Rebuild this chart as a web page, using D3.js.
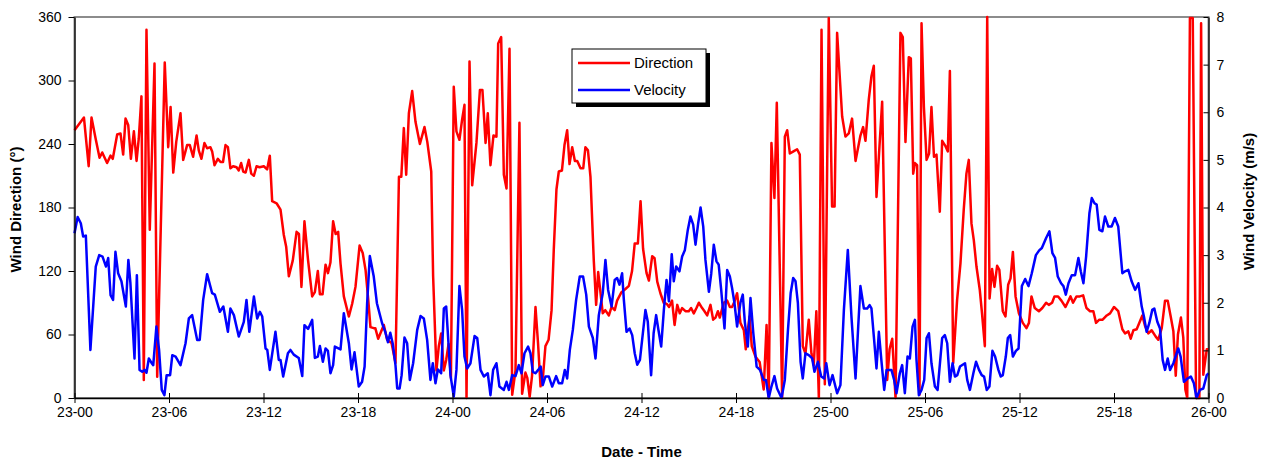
<!DOCTYPE html>
<html>
<head>
<meta charset="utf-8">
<script src="https://cdn.jsdelivr.net/npm/d3@7"></script>
<style>
  html, body { margin: 0; padding: 0; background: #fff; }
  svg { display: block; font-family: "Liberation Sans", Arial, sans-serif; }
</style>
</head>
<body>
<svg id="chart" width="1265" height="464"></svg>
<script>
// Wind direction (degrees) as [hours since 23-00, value]
const directionSeries = [
[0,253],[0.6,265],[0.9,219],[1.08,265],[1.33,246],[1.59,227],[1.76,232],[2.07,222],[2.29,229],[2.43,226],[2.71,249],[2.92,250],[3.09,230],[3.24,264],[3.41,258],[3.58,226],[3.77,252],[3.94,224],[4.08,245],[4.25,285],[4.4,17],[4.57,348],[4.78,159],[5.08,316],[5.25,20],[5.73,317],[5.95,237],[6.1,275],[6.27,213],[6.46,242],[6.73,269],[6.9,225],[7.15,239],[7.32,239],[7.53,228],[7.75,248],[7.89,234],[8.06,226],[8.25,241],[8.42,236],[8.63,237],[8.74,233],[8.89,220],[9.1,226],[9.27,223],[9.43,223],[9.59,239],[9.74,237],[9.9,217],[10.07,219],[10.29,218],[10.43,215],[10.58,222],[10.71,214],[10.86,213],[11.07,225],[11.22,212],[11.39,210],[11.56,219],[11.75,218],[12.02,219],[12.23,216],[12.4,229],[12.55,186],[12.83,184],[13.08,178],[13.29,154],[13.44,143],[13.61,115],[13.86,130],[14.1,157],[14.25,155],[14.41,105],[14.6,167],[14.83,130],[15.09,96],[15.26,100],[15.45,120],[15.58,98],[15.75,98],[15.94,126],[16.09,118],[16.25,128],[16.42,167],[16.58,155],[16.74,157],[16.89,127],[17.1,96],[17.42,77],[17.63,89],[17.84,105],[18.1,144],[18.3,137],[18.48,121],[18.65,93],[18.79,67],[19.0,66],[19.1,66],[19.28,56],[19.64,69],[19.85,55],[20.13,52],[20.38,33],[20.6,209],[20.75,209],[20.91,255],[21.06,211],[21.23,269],[21.44,290],[21.65,261],[21.93,240],[22.22,256],[22.4,242],[22.65,214],[22.77,115],[22.98,26],[23.13,49],[23.28,61],[23.45,26],[23.6,36],[23.75,51],[23.9,19],[24.08,294],[24.25,252],[24.44,244],[24.61,263],[24.76,277],[24.89,0],[25.08,318],[25.25,201],[25.52,241],[25.74,291],[25.9,291],[26.1,241],[26.24,269],[26.41,220],[26.6,248],[26.79,247],[26.9,335],[27.09,341],[27.26,211],[27.43,198],[27.62,330],[27.79,3],[28.0,26],[28.25,260],[28.42,4],[28.63,24],[28.75,19],[28.9,1],[29.05,21],[29.27,86],[29.43,52],[29.59,11],[29.75,21],[29.9,49],[30.1,55],[30.29,83],[30.43,140],[30.6,197],[30.75,214],[30.95,215],[31.11,239],[31.28,253],[31.43,221],[31.6,237],[31.77,224],[31.92,224],[32.13,217],[32.3,217],[32.44,237],[32.6,234],[32.76,209],[32.97,130],[33.12,88],[33.25,119],[33.4,99],[33.54,80],[33.7,83],[33.93,78],[34.1,86],[34.3,83],[34.45,92],[34.73,100],[34.98,103],[35.2,106],[35.4,120],[35.57,146],[35.77,146],[35.94,186],[36.1,141],[36.32,118],[36.47,111],[36.68,134],[36.83,132],[37.0,110],[37.2,99],[37.41,90],[37.6,89],[37.75,86],[37.94,92],[38.1,69],[38.27,88],[38.43,80],[38.58,85],[38.79,82],[39.0,82],[39.15,85],[39.32,80],[39.49,85],[39.64,90],[39.85,85],[40.0,82],[40.17,78],[40.38,88],[40.55,74],[40.7,76],[40.85,82],[40.97,76],[41.22,90],[41.44,92],[41.61,86],[41.75,86],[41.9,91],[42.07,99],[42.28,71],[42.5,64],[42.62,46],[42.75,64],[42.86,77],[43.0,49],[43.24,39],[43.34,37],[43.5,34],[43.76,8],[43.94,69],[44.08,0],[44.25,241],[44.44,189],[44.59,279],[44.93,0],[45.1,247],[45.25,253],[45.42,231],[45.65,233],[45.88,235],[46.05,230],[46.24,49],[46.41,42],[46.62,74],[46.79,42],[46.94,31],[47.1,82],[47.26,0],[47.43,348],[47.64,13],[47.89,359],[48.1,181],[48.26,181],[48.42,345],[48.74,266],[48.95,247],[49.16,250],[49.37,264],[49.59,224],[49.9,248],[50.07,256],[50.22,243],[50.43,282],[50.6,304],[50.75,314],[50.92,190],[51.07,228],[51.28,280],[51.6,17],[51.75,46],[51.92,56],[52.13,0],[52.44,345],[52.59,341],[52.76,242],[52.97,322],[53.1,321],[53.25,212],[53.36,222],[53.5,220],[53.65,3],[53.78,354],[53.93,275],[54.1,225],[54.26,231],[54.41,275],[54.57,228],[54.73,230],[54.94,176],[55.09,243],[55.3,238],[55.45,233],[55.58,309],[55.79,33],[56.04,93],[56.25,127],[56.46,178],[56.63,212],[56.78,225],[56.95,165],[57.1,149],[57.27,124],[57.48,102],[57.62,80],[57.8,49],[57.95,360],[58.1,94],[58.26,122],[58.41,105],[58.58,125],[58.72,121],[58.94,82],[59.11,77],[59.28,107],[59.43,113],[59.58,138],[59.75,96],[59.96,80],[60.21,71],[60.44,66],[60.6,71],[60.76,96],[60.97,85],[61.23,82],[61.45,85],[61.69,90],[61.86,88],[62.07,90],[62.22,96],[62.45,96],[62.66,92],[62.92,86],[63.08,91],[63.24,96],[63.4,90],[63.62,96],[63.83,96],[64.04,97],[64.25,85],[64.48,82],[64.69,82],[64.86,71],[65.07,74],[65.28,74],[65.54,78],[65.75,80],[66.0,86],[66.27,82],[66.53,65],[66.7,61],[66.91,63],[67.06,56],[67.23,64],[67.44,65],[67.61,71],[67.8,78],[67.97,68],[68.18,61],[68.39,64],[68.65,58],[68.81,55],[69.03,66],[69.24,92],[69.41,92],[69.6,77],[69.77,63],[69.92,21],[70.06,60],[70.25,76],[70.4,57],[70.53,8],[70.65,0],[70.82,359],[71.0,359],[71.21,0],[71.42,0],[71.53,354],[71.67,22],[71.89,46],[72.0,46]
];

// Wind velocity (m/s) as [hours since 23-00, value]
const velocitySeries = [
[0,3.46],[0.2,3.8],[0.4,3.67],[0.55,3.39],[0.72,3.41],[1.01,1.01],[1.35,2.76],[1.57,3.0],[1.78,2.97],[2.0,2.76],[2.14,2.94],[2.29,2.16],[2.45,2.06],[2.6,3.07],[2.77,2.62],[2.98,2.45],[3.26,1.92],[3.42,2.9],[3.55,2.41],[3.81,0.83],[3.96,2.58],[4.13,0.59],[4.3,0.55],[4.45,0.59],[4.57,0.53],[4.72,0.83],[4.9,0.73],[5.0,0.69],[5.2,1.5],[5.37,1.01],[5.54,0.17],[5.71,0.06],[5.85,0.48],[6.07,0.48],[6.21,0.9],[6.42,0.87],[6.73,0.69],[7.05,1.15],[7.26,1.67],[7.47,1.74],[7.79,1.22],[7.95,1.22],[8.17,2.06],[8.42,2.6],[8.74,2.2],[8.91,2.17],[9.23,1.81],[9.45,1.92],[9.74,1.39],[9.9,1.88],[10.12,1.74],[10.43,1.29],[10.75,1.6],[10.92,2.06],[11.1,1.39],[11.39,2.13],[11.6,1.67],[11.77,1.81],[11.92,1.71],[12.13,1.04],[12.24,1.01],[12.4,0.59],[12.76,1.39],[12.97,0.8],[13.08,0.8],[13.25,0.45],[13.55,0.94],[13.71,1.01],[13.92,0.91],[14.24,0.84],[14.46,0.46],[14.6,1.53],[14.83,1.45],[15.09,1.64],[15.26,0.84],[15.45,0.87],[15.58,1.09],[15.77,0.76],[15.94,1.04],[16.09,0.99],[16.25,0.52],[16.42,0.69],[16.53,1.08],[16.89,1.02],[17.1,1.78],[17.42,1.15],[17.59,0.6],[17.78,0.96],[18.05,0.24],[18.26,0.34],[18.42,0.66],[18.58,1.99],[18.75,2.98],[19.0,2.55],[19.2,1.99],[19.53,1.57],[19.74,1.38],[19.9,1.17],[20.05,1.37],[20.2,1.15],[20.38,0.69],[20.49,0.2],[20.64,0.2],[20.77,0.48],[20.95,1.27],[21.12,1.15],[21.29,0.38],[21.5,0.73],[21.76,1.43],[21.97,1.72],[22.18,1.67],[22.39,1.22],[22.6,0.38],[22.75,0.73],[22.92,0.31],[23.07,0.6],[23.28,0.52],[23.45,1.88],[23.6,1.92],[23.87,0.48],[24.08,0.03],[24.25,0.59],[24.44,2.35],[24.61,1.85],[24.76,0.87],[24.93,0.62],[25.14,0.73],[25.4,1.3],[25.57,1.26],[25.78,0.59],[25.99,0.45],[26.24,0.52],[26.41,0.06],[26.58,0.59],[26.79,0.73],[26.98,0.24],[27.26,0.17],[27.43,0.34],[27.58,0.17],[27.79,0.48],[28.0,0.46],[28.21,0.69],[28.38,0.52],[28.57,0.94],[28.8,1.08],[28.95,0.94],[29.1,0.55],[29.27,0.52],[29.44,0.59],[29.6,0.66],[29.73,0.27],[29.9,0.45],[30.12,0.45],[30.33,0.24],[30.58,0.46],[30.75,0.31],[30.96,0.31],[31.13,0.59],[31.28,0.41],[31.45,1.01],[31.64,1.43],[31.85,2.06],[32.08,2.55],[32.29,2.55],[32.49,2.17],[32.66,1.5],[32.91,1.26],[33.08,0.83],[33.29,1.74],[33.54,2.2],[33.71,2.9],[33.88,2.27],[34.1,1.92],[34.3,2.48],[34.45,2.52],[34.6,2.38],[34.77,2.62],[34.88,2.06],[35.05,1.39],[35.24,1.46],[35.41,1.32],[35.57,0.94],[35.73,0.7],[35.9,0.8],[36.25,1.85],[36.4,1.6],[36.61,0.48],[36.77,1.36],[36.93,1.74],[37.06,1.46],[37.25,1.08],[37.42,1.85],[37.59,2.48],[37.74,2.03],[37.92,3.02],[38.05,2.45],[38.2,2.76],[38.41,2.66],[38.58,2.97],[38.75,3.1],[38.94,3.53],[39.11,3.81],[39.28,3.64],[39.43,3.22],[39.6,3.67],[39.75,4.0],[39.92,3.6],[40.06,2.9],[40.28,2.23],[40.43,2.62],[40.59,3.22],[40.76,2.87],[40.9,2.8],[41.06,2.27],[41.27,1.46],[41.44,2.69],[41.61,2.55],[41.75,2.31],[41.9,2.0],[42.07,1.5],[42.28,2.0],[42.43,2.17],[42.56,1.6],[42.75,1.08],[42.92,2.1],[43.1,1.36],[43.31,0.66],[43.52,0.59],[43.76,0.38],[43.9,0.38],[44.08,0.0],[44.25,0.24],[44.44,0.46],[44.61,0.2],[44.89,0.0],[45.1,0.38],[45.3,1.43],[45.47,2.2],[45.63,2.52],[45.78,2.45],[45.93,1.99],[46.1,0.76],[46.24,0.41],[46.41,0.94],[46.62,0.9],[46.84,0.83],[46.98,0.55],[47.2,0.76],[47.41,0.45],[47.6,0.41],[47.73,0.73],[47.94,0.27],[48.13,0.48],[48.42,0.1],[48.63,0.27],[48.85,1.85],[49.1,3.11],[49.33,1.71],[49.59,0.41],[49.76,1.5],[49.9,2.35],[50.12,1.88],[50.33,1.88],[50.48,1.95],[50.6,1.88],[50.77,1.22],[50.92,0.62],[51.07,1.39],[51.24,0.76],[51.41,0.17],[51.56,0.59],[51.87,0.59],[52.04,0.38],[52.19,0.1],[52.4,0.52],[52.55,0.69],[52.72,0.1],[52.89,0.87],[53.04,0.83],[53.21,1.5],[53.36,1.64],[53.46,0.8],[53.61,0.06],[53.78,0.17],[53.95,0.38],[54.1,1.26],[54.25,1.36],[54.41,0.73],[54.63,0.24],[54.8,0.17],[54.95,0.73],[55.09,1.26],[55.26,1.32],[55.41,1.15],[55.58,0.34],[55.75,0.73],[55.9,0.45],[56.05,0.48],[56.22,0.66],[56.54,0.73],[56.68,0.38],[56.85,0.17],[57.07,0.52],[57.24,0.76],[57.43,0.59],[57.6,0.48],[57.75,0.45],[57.92,0.17],[58.09,0.24],[58.28,0.99],[58.45,0.87],[58.66,0.59],[58.81,0.45],[58.94,0.48],[59.13,0.87],[59.26,1.26],[59.41,1.32],[59.58,0.87],[59.77,0.99],[59.94,1.04],[60.15,2.35],[60.36,2.5],[60.57,2.35],[60.78,2.62],[61.04,3.0],[61.25,3.1],[61.42,3.15],[61.69,3.36],[61.9,3.5],[62.09,3.04],[62.26,2.94],[62.43,2.55],[62.64,2.41],[62.79,2.35],[62.94,2.17],[63.11,2.41],[63.32,2.58],[63.53,2.58],[63.74,2.94],[63.89,2.66],[64.06,2.41],[64.23,2.97],[64.44,3.88],[64.59,4.2],[64.76,4.09],[64.9,4.06],[65.07,3.53],[65.26,3.5],[65.43,3.81],[65.64,3.6],[65.85,3.6],[66.06,3.78],[66.27,3.6],[66.53,2.62],[66.7,2.66],[66.91,2.69],[67.12,2.45],[67.34,2.27],[67.55,2.41],[67.76,1.92],[67.9,1.71],[68.07,1.39],[68.24,1.57],[68.43,1.85],[68.56,1.88],[68.75,1.6],[68.92,1.46],[69.09,0.8],[69.24,0.59],[69.41,0.83],[69.56,0.59],[69.77,0.73],[70.08,1.04],[70.23,0.87],[70.44,0.34],[70.67,0.41],[70.88,0.45],[71.07,0.31],[71.24,0.0],[71.45,0.17],[71.67,0.2],[71.89,0.48],[72.0,0.52]
];

const directionTicks = [0, 60, 120, 180, 240, 300, 360];
const velocityTicks = [0, 1, 2, 3, 4, 5, 6, 7, 8];
const seriesNames = ["Direction", "Velocity"];

const svg = d3.select("#chart");
const margin = { left: 74.5, right: 1208.5, top: 17, bottom: 398 };

const start = new Date(2000, 0, 23, 0, 0);
const end = new Date(2000, 0, 26, 0, 0);
const toDate = h => new Date(start.getTime() + h * 3600 * 1000);

const x = d3.scaleTime().domain([start, end]).range([margin.left, margin.right]);
const yDir = d3.scaleLinear().domain([0, 360]).range([margin.bottom, margin.top]);
const yVel = d3.scaleLinear().domain([0, 8]).range([margin.bottom, margin.top]);

// plot frame (top edge visible in grey)
svg.append("rect")
  .attr("x", margin.left).attr("y", margin.top)
  .attr("width", margin.right - margin.left)
  .attr("height", margin.bottom - margin.top)
  .attr("fill", "none").attr("stroke", "#8c8c8c").attr("stroke-width", 2);

// series lines
const dirLine = d3.line().x(d => x(toDate(d[0]))).y(d => yDir(d[1]));
const velLine = d3.line().x(d => x(toDate(d[0]))).y(d => yVel(d[1]));

svg.append("path").datum(directionSeries)
  .attr("d", dirLine).attr("fill", "none")
  .attr("stroke", "#ff0000").attr("stroke-width", 2.5)
  .attr("stroke-linejoin", "round");

svg.append("path").datum(velocitySeries)
  .attr("d", velLine).attr("fill", "none")
  .attr("stroke", "#0000ff").attr("stroke-width", 2.5)
  .attr("stroke-linejoin", "round");

// axes
function styleAxis(g) {
  g.selectAll(".domain").attr("stroke", "#000").attr("stroke-width", 1.3);
  g.selectAll(".tick line").attr("stroke", "#000").attr("stroke-width", 1);
  g.selectAll(".tick text").attr("fill", "#000").style("font-size", "14px")
    .style("font-family", '"Liberation Sans", Arial, sans-serif');
}

svg.append("g")
  .attr("transform", `translate(${margin.left},0)`)
  .call(d3.axisLeft(yDir).tickValues(directionTicks).tickSize(6).tickSizeOuter(0).tickPadding(7))
  .call(styleAxis);

svg.append("g")
  .attr("transform", `translate(${margin.right},0)`)
  .call(d3.axisRight(yVel).tickValues(velocityTicks).tickSize(-5).tickSizeOuter(0).tickPadding(8))
  .call(styleAxis);

const xAxis = svg.append("g")
  .attr("transform", `translate(0,${margin.bottom})`)
  .call(d3.axisBottom(x).ticks(d3.timeHour.every(6)).tickFormat(d3.timeFormat("%d-%H"))
    .tickSize(5).tickSizeOuter(0).tickPadding(4))
  .call(styleAxis);
xAxis.selectAll(".tick line").attr("y1", -5);

// axis titles
svg.append("text")
  .attr("transform", `translate(21,${(margin.top + margin.bottom) / 2 + 2}) rotate(-90)`)
  .attr("text-anchor", "middle")
  .style("font-size", "15px").style("font-weight", "bold")
  .text("Wind Direction (°)");

svg.append("text")
  .attr("transform", `translate(1254,${(margin.top + margin.bottom) / 2 - 6}) rotate(-90)`)
  .attr("text-anchor", "middle")
  .style("font-size", "15px").style("font-weight", "bold")
  .text("Wind Velocity (m/s)");

svg.append("text")
  .attr("x", (margin.left + margin.right) / 2).attr("y", 457)
  .attr("text-anchor", "middle")
  .style("font-size", "15px").style("font-weight", "bold")
  .text("Date - Time");

// legend with drop shadow
const legend = svg.append("g").attr("transform", "translate(572,49)");
legend.append("rect").attr("x", 4).attr("y", 4).attr("width", 134).attr("height", 54).attr("fill", "#000");
legend.append("rect").attr("width", 134).attr("height", 54).attr("fill", "#fff")
  .attr("stroke", "#000").attr("stroke-width", 1);
const legendColors = ["#ff0000", "#0000ff"];
seriesNames.forEach((name, i) => {
  const yy = 14 + i * 27;
  legend.append("line").attr("x1", 6).attr("x2", 58).attr("y1", yy).attr("y2", yy)
    .attr("stroke", legendColors[i]).attr("stroke-width", 2.5);
  legend.append("text").attr("x", 62).attr("y", yy + 5)
    .style("font-size", "15px").text(name);
});
</script>
</body>
</html>
